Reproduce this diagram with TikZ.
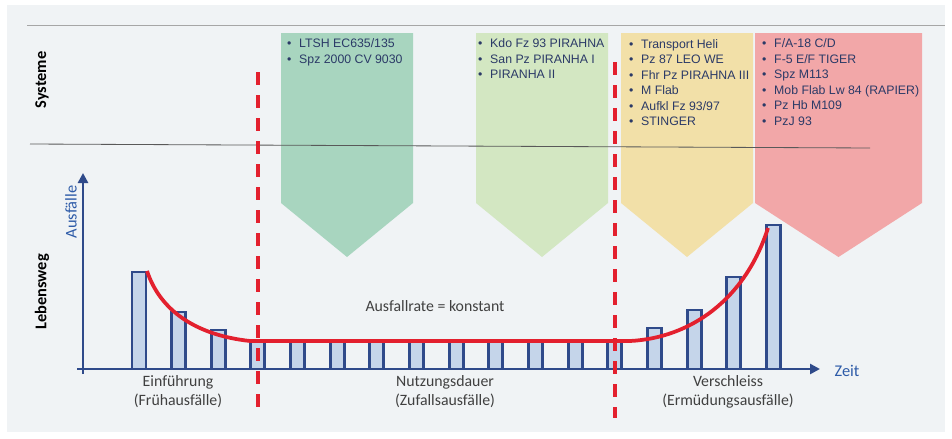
\documentclass[tikz,border=0pt]{standalone}
\usepackage{fontspec}
\setmainfont{Carlito}
\newfontfamily\listfont{Liberation Sans}
\usetikzlibrary{arrows.meta, positioning}
\definecolor{BgGray}{HTML}{F0F3F5}
\definecolor{AxisBlue}{HTML}{2F4A8A}
\definecolor{BarFill}{HTML}{C5D5EA}
\definecolor{CurveRed}{HTML}{E3202E}
\definecolor{ListBlue}{HTML}{2B3A67}
\definecolor{LabelBlue}{HTML}{2E5BA8}
\definecolor{PhaseGreen}{HTML}{A8D5BF}
\definecolor{PhaseLime}{HTML}{D3E7C2}
\definecolor{PhaseYellow}{HTML}{F2E0A8}
\definecolor{PhaseRose}{HTML}{F2A7A8}

\tikzset{
  phaselbl/.style={text=black!75, font=\fontsize{13.5}{16.2}\selectfont, align=center, inner sep=0pt},
  rowlbl/.style={rotate=90, font=\bfseries\fontsize{14}{16}\selectfont, inner sep=0pt},
  axislbl/.style={text=LabelBlue, font=\fontsize{14}{16}\selectfont, inner sep=0pt},
  sysitem/.style={anchor=base west, inner sep=0pt, text=ListBlue, font=\listfont\fontsize{10.5}{13}\selectfont},
  bar/.style={draw=AxisBlue, fill=BarFill, line width=2.5pt},
  axis/.style={draw=AxisBlue, line width=2.5pt, -{Triangle[length=3mm, width=3mm]}},
  phaseline/.style={CurveRed, line width=3pt, dash pattern=on 3.9mm off 3mm},
}
\newcommand{\itm}[1]{\makebox[3.6mm][l]{\textbullet}#1}

\begin{document}
\begin{tikzpicture}[x=0.3mm, y=-0.3mm]
    % page and background
    \useasboundingbox (0,0) rectangle (952,439);
    \fill[BgGray] (7,5) rectangle (945,432);
    \draw[gray!70, line width=0.8pt] (27,25) -- (945,25);

    % phase chevrons
    \foreach \l/\r/\c in {281/413/PhaseGreen, 476/608/PhaseLime, 621/753/PhaseYellow, 755/922/PhaseRose} {
        \fill[\c] (\l,33) -- (\r,33) -- (\r,203) -- ({(\l+\r)/2},257) -- (\l,203) -- cycle;
    }

    % row separator
    \draw[black!65, line width=0.7pt] (30,144) -- (870,148);

    % system lists
    \foreach \t [count=\i from 0] in {LTSH EC635/135, Spz 2000 CV 9030}
        \node[sysitem] (ga-\i) at (287,{47.8+15.5*\i}) {\itm{\t}};
    \foreach \t [count=\i from 0] in {Kdo Fz 93 PIRAHNA, San Pz PIRANHA I, PIRANHA II}
        \node[sysitem] (gb-\i) at (478,{47.8+15.5*\i}) {\itm{\t}};
    \foreach \t [count=\i from 0] in {Transport Heli, Pz 87 LEO WE, Fhr Pz PIRAHNA III, M Flab, Aufkl Fz 93/97, STINGER}
        \node[sysitem] (ye-\i) at (629,{48.3+15.5*\i}) {\itm{\t}};
    \foreach \t [count=\i from 0] in {F/A-18 C/D, F-5 E/F TIGER, Spz M113, Mob Flab Lw 84 (RAPIER), Pz Hb M109, PzJ 93}
        \node[sysitem] (ro-\i) at (762,{47.8+15.5*\i}) {\itm{\t}};

    % failure bars
    \foreach \h [count=\i from 0] in {272,312,330,340,341,341,341,341,341,341,341,341,341,328,310,277,225}
        \draw[bar] ({132+39.65*\i},369) rectangle ({146+39.65*\i},\h);

    % axes
    \coordinate (ybase) at (83,374);
    \coordinate (ytip) at (83,173);
    \coordinate (xbase) at (77,369);
    \coordinate (xtip) at (820,369);
    \draw[axis] (ybase) -- (ytip);
    \draw[axis] (xbase) -- (xtip);

    % bathtub curve
    \draw[CurveRed, line width=3.2pt] (147,271) .. controls (160,310) and (195,335) .. (250,341)
        -- (630,341) .. controls (690,338) and (745,300) .. (768,228);

    % phase borders
    \draw[phaseline] (258,72) -- (258,412);
    \draw[phaseline] (615,62) -- (615,418);

    % labels
    \node[rowlbl] (systeme) at (42,80) {Systeme};
    \node[rowlbl] (lebensweg) at (42,292) {Lebensweg};
    \node[axislbl, rotate=90] (ausfaelle) at (71,212) {Ausfälle};
    \node[axislbl] (zeit) at (847,371) {Zeit};
    \node[phaselbl] (rate) at (435,306) {Ausfallrate = konstant};
    \node[phaselbl] (einf) at (178,391.5) {Einführung\\(Frühausfälle)};
    \node[phaselbl] (nutz) at (445,391.5) {Nutzungsdauer\\(Zufallsausfälle)};
    \node[phaselbl] (versch) at (728,391.5) {Verschleiss\\(Ermüdungsausfälle)};
\end{tikzpicture}
\end{document}
